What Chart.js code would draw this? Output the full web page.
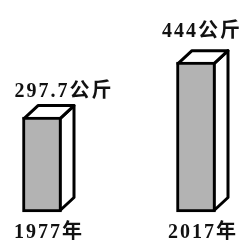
<!DOCTYPE html>
<html>
<head>
<meta charset="utf-8">
<script src="https://cdn.jsdelivr.net/npm/chart.js@4"></script>
<style>
  html, body { margin: 0; padding: 0; background: #fff; }
  #wrap { width: 252px; height: 242px; }
</style>
</head>
<body>
<div id="wrap"><canvas id="grainChart"></canvas></div>
<script>
// data
var years = ["1977年", "2017年"];
var grain = [297.7, 444];
var grainLabels = ["297.7公斤", "444公斤"];

var textFont = 'bold 20px "Liberation Serif", "Noto Sans CJK SC", serif';

// draws the top and side faces so the bars look like boxes
var boxPlugin = {
  id: "boxPlugin",
  beforeDraw: function(chart) {
    chart.ctx.letterSpacing = "2px";
  },
  beforeDatasetsDraw: function(chart, args, opts) {
    let ctx = chart.ctx;
    let dx = opts.dx, dy = opts.dy;
    chart.getDatasetMeta(0).data.forEach(function(bar) {
      let p = bar.getProps(["x", "y", "base", "width"], true);
      let l = p.x - p.width / 2 + 1.5;
      let r = p.x + p.width / 2 - 1.5;
      let t = p.y + 1.5;
      let b = p.base - 1.5;
      ctx.save();
      ctx.lineWidth = 3;
      ctx.lineJoin = "round";
      ctx.strokeStyle = "#000";
      ctx.fillStyle = "#fff";
      // side
      ctx.beginPath();
      ctx.moveTo(r, t);
      ctx.lineTo(r + dx, t - dy);
      ctx.lineTo(r + dx, b - dy);
      ctx.lineTo(r, b);
      ctx.closePath();
      ctx.fill();
      ctx.stroke();
      // top
      ctx.beginPath();
      ctx.moveTo(l, t);
      ctx.lineTo(l + dx, t - dy);
      ctx.lineTo(r + dx, t - dy);
      ctx.lineTo(r, t);
      ctx.closePath();
      ctx.fill();
      ctx.stroke();
      ctx.restore();
    });
  },
  afterDatasetsDraw: function(chart, args, opts) {
    let ctx = chart.ctx;
    ctx.save();
    ctx.font = textFont;
    ctx.fillStyle = "#111";
    ctx.textAlign = "center";
    ctx.textBaseline = "middle";
    ctx.letterSpacing = "2px";
    chart.getDatasetMeta(0).data.forEach(function(bar, i) {
      let shift = opts.shift[i] || 0;
      ctx.fillText(grainLabels[i], bar.x + opts.dx / 2 + shift, bar.y - opts.dy - opts.gap[i]);
    });
    ctx.restore();
  }
};

let ctx = document.getElementById("grainChart").getContext("2d");

new Chart(ctx, {
  type: "bar",
  data: {
    labels: years,
    datasets: [{
      data: grain,
      base: 45,
      backgroundColor: "#b3b3b3",
      borderColor: "#000",
      borderWidth: 3,
      borderSkipped: false,
      barThickness: 39,
      clip: false
    }]
  },
  options: {
    responsive: true,
    maintainAspectRatio: false,
    animation: false,
    layout: {
      padding: { left: 42, right: 56, top: 40, bottom: 0 }
    },
    plugins: {
      legend: { display: false },
      tooltip: { enabled: false },
      boxPlugin: { dx: 14, dy: 13, shift: [15, -1], gap: [12, 17] }
    },
    scales: {
      x: {
        offset: false,
        grid: { display: false, drawTicks: false },
        border: { display: false },
        ticks: {
          color: "#111",
          font: { family: '"Liberation Serif", "Noto Sans CJK SC", serif', size: 20, weight: "bold" },
          padding: 9,
          labelOffset: 7,
          maxRotation: 0,
          autoSkip: false
        },
        afterFit: function(scale) { scale.height = 30; }
      },
      y: {
        display: false,
        min: 45,
        max: 503
      }
    }
  },
  plugins: [boxPlugin]
});
</script>
</body>
</html>
